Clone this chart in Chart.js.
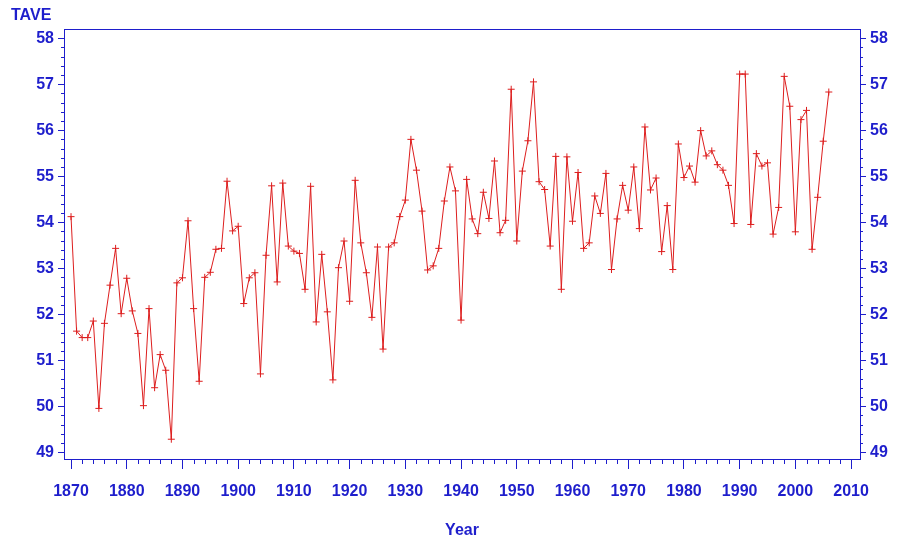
<!DOCTYPE html>
<html>
<head>
<meta charset="utf-8">
<title>TAVE by Year</title>
<script src="https://cdn.jsdelivr.net/npm/chart.js@4.4.1/dist/chart.umd.min.js"></script>
<style>
  html, body { margin: 0; padding: 0; background: #ffffff; }
  #wrap { width: 898px; height: 540px; }
</style>
</head>
<body>
<div id="wrap"><canvas id="tempChart" width="898" height="540"></canvas></div>
<script>
// years on the x axis
var years = [
    1870, 1871, 1872, 1873, 1874, 1875, 1876, 1877, 1878, 1879,
    1880, 1881, 1882, 1883, 1884, 1885, 1886, 1887, 1888, 1889,
    1890, 1891, 1892, 1893, 1894, 1895, 1896, 1897, 1898, 1899,
    1900, 1901, 1902, 1903, 1904, 1905, 1906, 1907, 1908, 1909,
    1910, 1911, 1912, 1913, 1914, 1915, 1916, 1917, 1918, 1919,
    1920, 1921, 1922, 1923, 1924, 1925, 1926, 1927, 1928, 1929,
    1930, 1931, 1932, 1933, 1934, 1935, 1936, 1937, 1938, 1939,
    1940, 1941, 1942, 1943, 1944, 1945, 1946, 1947, 1948, 1949,
    1950, 1951, 1952, 1953, 1954, 1955, 1956, 1957, 1958, 1959,
    1960, 1961, 1962, 1963, 1964, 1965, 1966, 1967, 1968, 1969,
    1970, 1971, 1972, 1973, 1974, 1975, 1976, 1977, 1978, 1979,
    1980, 1981, 1982, 1983, 1984, 1985, 1986, 1987, 1988, 1989,
    1990, 1991, 1992, 1993, 1994, 1995, 1996, 1997, 1998, 1999,
    2000, 2001, 2002, 2003, 2004, 2005, 2006
];

// average temperature, one per year
var tave = [
    54.12, 51.63, 51.49, 51.49, 51.85, 49.95, 51.80, 52.63, 53.43, 52.01,
    52.78, 52.07, 51.58, 50.01, 52.12, 50.40, 51.12, 50.78, 49.28, 52.68,
    52.79, 54.03, 52.12, 50.54, 52.80, 52.91, 53.41, 53.43, 54.89, 53.81,
    53.91, 52.23, 52.79, 52.90, 50.70, 53.28, 54.79, 52.70, 54.85, 53.48,
    53.37, 53.32, 52.54, 54.78, 51.83, 53.30, 52.05, 50.57, 53.01, 53.59,
    52.28, 54.91, 53.55, 52.90, 51.93, 53.46, 51.24, 53.46, 53.55, 54.12,
    54.48, 55.80, 55.13, 54.24, 52.96, 53.05, 53.43, 54.46, 55.20, 54.68,
    51.87, 54.93, 54.07, 53.75, 54.65, 54.08, 55.33, 53.77, 54.04, 56.89,
    53.59, 55.11, 55.77, 57.05, 54.88, 54.71, 53.48, 55.43, 52.54, 55.42,
    54.02, 55.08, 53.43, 53.55, 54.57, 54.19, 55.06, 52.97, 54.07, 54.80,
    54.26, 55.20, 53.86, 56.07, 54.70, 54.96, 53.36, 54.36, 52.97, 55.70,
    54.97, 55.22, 54.87, 55.99, 55.44, 55.55, 55.25, 55.13, 54.80, 53.97,
    57.22, 57.22, 53.95, 55.49, 55.22, 55.29, 53.74, 54.32, 57.17, 56.52,
    53.79, 56.23, 56.43, 53.41, 54.54, 55.76, 56.83
];

// labelled ticks
var xTicks = [1870, 1880, 1890, 1900, 1910, 1920, 1930, 1940, 1950, 1960, 1970, 1980, 1990, 2000, 2010];
var yTicks = [49, 50, 51, 52, 53, 54, 55, 56, 57, 58];

var axisBlue = '#1e1ecc';
var lineRed = '#dd1e1e';
var labelFont = { family: "'Liberation Sans', Arial, sans-serif", size: 16, weight: 'bold' };

function setTicks(list) {
    return function (scale) {
        scale.ticks = list.map(function (v) { return { value: v }; });
    };
}

// frame, minor ticks and the TAVE label
var framePlugin = {
    id: 'sasFrame',
    afterDraw: function (chart) {
        var c = chart.ctx;
        var area = chart.chartArea;
        var xs = chart.scales.x;
        var ys = chart.scales.y;
        c.save();
        c.strokeStyle = axisBlue;
        c.lineWidth = 1;
        c.strokeRect(area.left + 0.5, area.top + 0.5, area.right - area.left, area.bottom - area.top);

        c.beginPath();
        // minor ticks on x, every 2 years
        for (var yr = xTicks[0]; yr <= xTicks[xTicks.length - 1]; yr += 2) {
            if (yr % 10 === 0) continue;
            var px = Math.round(xs.getPixelForValue(yr)) + 0.5;
            c.moveTo(px, area.bottom);
            c.lineTo(px, area.bottom + 5);
        }
        // minor ticks on y, every 0.2
        for (var i = 0; i <= 45; i++) {
            if (i % 5 === 0) continue;
            var v = yTicks[0] + i * 0.2;
            var py = Math.round(ys.getPixelForValue(v)) + 0.5;
            c.moveTo(area.left, py);
            c.lineTo(area.left - 3, py);
            c.moveTo(area.right, py);
            c.lineTo(area.right + 3, py);
        }
        c.stroke();

        c.fillStyle = axisBlue;
        c.font = 'bold 16px "Liberation Sans", Arial, sans-serif';
        c.textBaseline = 'middle';
        c.textAlign = 'left';
        c.fillText('TAVE', 11, 16);
        c.restore();
    }
};

document.addEventListener('DOMContentLoaded', function () {
    var ctx = document.getElementById('tempChart').getContext('2d');

    var yAxisBase = {
        min: 48.85,
        max: 58.2,
        afterBuildTicks: setTicks(yTicks),
        grid: { display: true, drawOnChartArea: false, color: axisBlue, tickLength: 6, lineWidth: 1 },
        border: { display: false },
        ticks: { color: axisBlue, font: labelFont, padding: 4, includeBounds: false }
    };

    new Chart(ctx, {
        type: 'line',
        data: {
            datasets: [{
                label: 'TAVE',
                data: years.map(function (yr, i) { return { x: yr, y: tave[i] }; }),
                borderColor: lineRed,
                borderWidth: 1,
                tension: 0,
                fill: false,
                pointStyle: 'cross',
                pointRadius: 3.5,
                pointBorderWidth: 1,
                pointBorderColor: lineRed,
                pointBackgroundColor: lineRed
            }]
        },
        options: {
            responsive: false,
            animation: false,
            layout: { padding: { top: 29, left: 0, right: 0, bottom: 0 } },
            plugins: {
                legend: { display: false },
                tooltip: { enabled: false }
            },
            scales: {
                x: {
                    type: 'linear',
                    position: 'bottom',
                    min: 1868.74,
                    max: 2011.6,
                    afterBuildTicks: setTicks(xTicks),
                    afterFit: function (scale) { scale.height = 81; },
                    grid: { display: true, drawOnChartArea: false, color: axisBlue, tickLength: 10, lineWidth: 1 },
                    border: { display: false },
                    ticks: { color: axisBlue, font: labelFont, padding: 13, maxRotation: 0, autoSkip: false, includeBounds: false,
                        callback: function (v) { return String(v); } },
                    title: { display: true, text: 'Year', color: axisBlue, font: labelFont, padding: { top: 8, bottom: 0 } }
                },
                y: Object.assign({}, yAxisBase, {
                    position: 'left',
                    afterFit: function (scale) { scale.width = 64; }
                }),
                y2: Object.assign({}, yAxisBase, {
                    position: 'right',
                    afterFit: function (scale) { scale.width = 38; }
                })
            }
        },
        plugins: [framePlugin]
    });
});
</script>
</body>
</html>
